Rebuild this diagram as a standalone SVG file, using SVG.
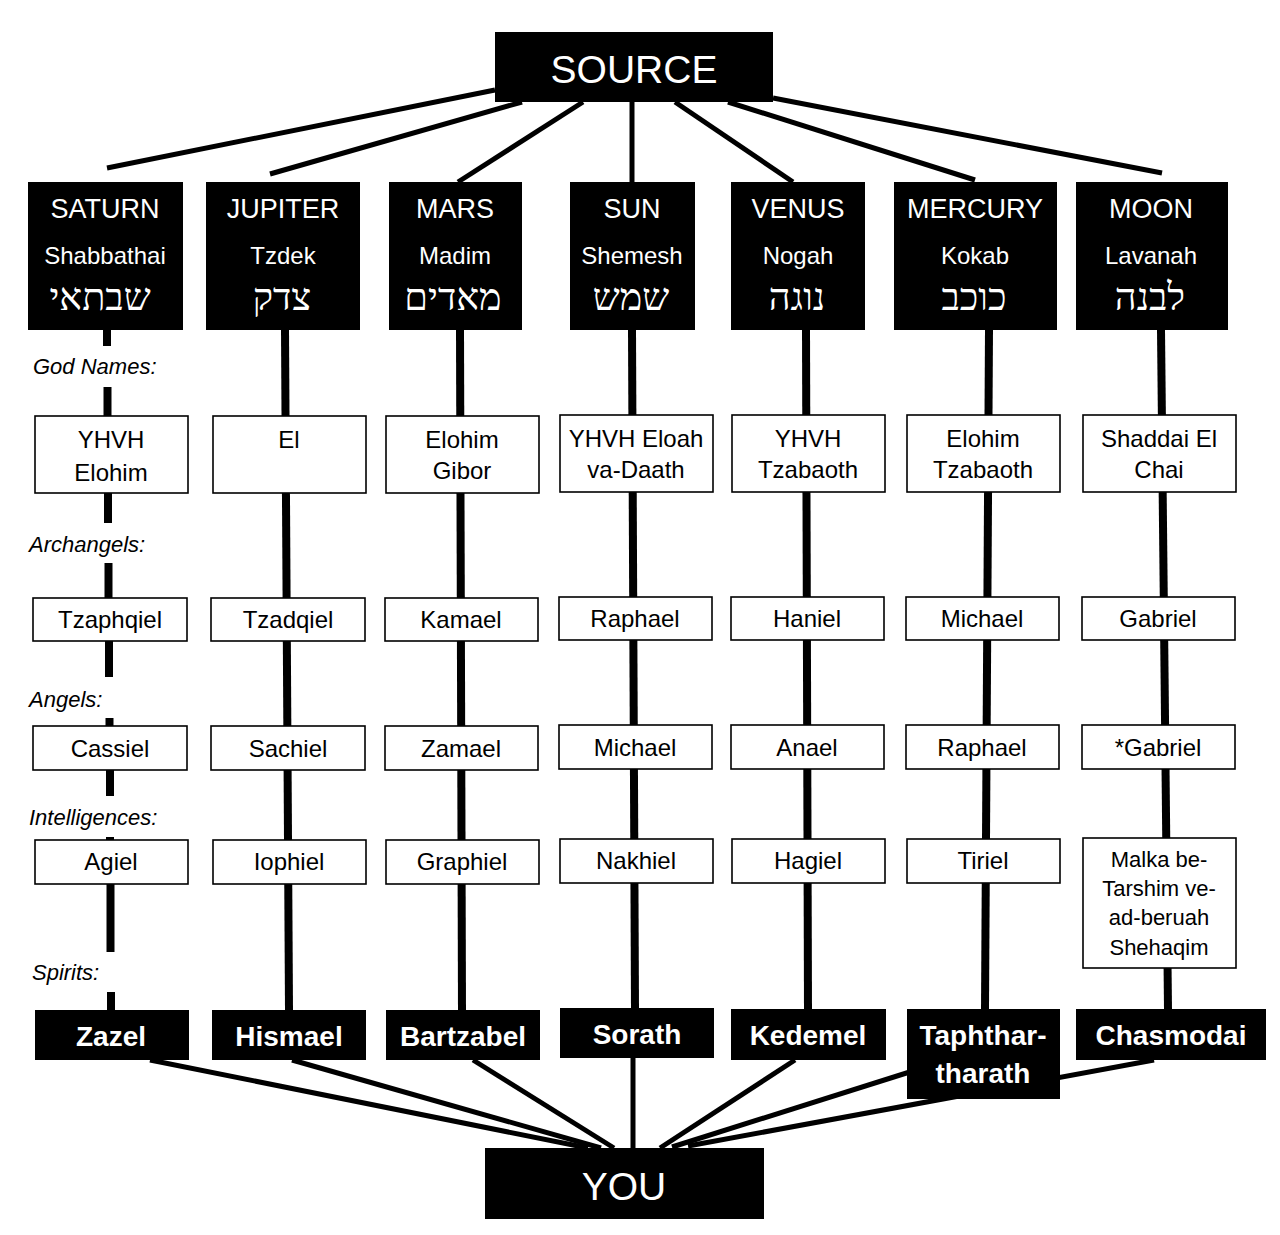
<svg xmlns="http://www.w3.org/2000/svg" width="1280" height="1235" viewBox="0 0 1280 1235">
<style>
.bg{fill:#fff}
.pbox{fill:#000}
.wbox{fill:#fff;stroke:#000;stroke-width:1.6}
.t{font-family:"Liberation Sans",Arial,sans-serif;font-size:24px;text-anchor:middle;fill:#000}
.sm{font-size:22px}
.ptitle{font-family:"Liberation Sans",Arial,sans-serif;font-size:27px;text-anchor:middle;fill:#fff}
.psub{font-family:"Liberation Sans",Arial,sans-serif;font-size:24px;text-anchor:middle;fill:#fff}
.heb{font-family:"Liberation Serif","DejaVu Serif",serif;font-size:38px;text-anchor:middle;fill:#fff}
.spirit{font-family:"Liberation Sans",Arial,sans-serif;font-weight:bold;font-size:28px;text-anchor:middle;fill:#fff}
.big{font-family:"Liberation Sans",Arial,sans-serif;font-size:39px;text-anchor:middle;fill:#fff}
.lbl{font-family:"Liberation Sans",Arial,sans-serif;font-style:italic;font-size:22px;fill:#000}
.col{stroke:#000;stroke-width:8;fill:none}
.con{stroke:#000;stroke-width:5;fill:none}
</style>
<rect class="bg" x="0" y="0" width="1280" height="1235"/>
<g id="connectors">
  <line class="con" x1="495" y1="90" x2="107" y2="168"/>
  <line class="con" x1="522" y1="102" x2="270" y2="174"/>
  <line class="con" x1="583" y1="102" x2="458" y2="182"/>
  <line class="con" x1="632" y1="102" x2="632" y2="182"/>
  <line class="con" x1="675" y1="102" x2="793" y2="182"/>
  <line class="con" x1="728" y1="102" x2="975" y2="180"/>
  <line class="con" x1="773" y1="98" x2="1162" y2="173"/>
  <line class="col" x1="107" y1="330" x2="107" y2="346"/>
  <line class="col" x1="107.5" y1="387" x2="107.5" y2="416"/>
  <line class="col" x1="108" y1="493" x2="108" y2="523"/>
  <line class="col" x1="108.5" y1="563" x2="108.5" y2="598"/>
  <line class="col" x1="109" y1="641" x2="109" y2="677"/>
  <line class="col" x1="109.5" y1="718" x2="109.5" y2="726"/>
  <line class="col" x1="110" y1="770" x2="110" y2="796"/>
  <line class="col" x1="110" y1="837" x2="110" y2="840"/>
  <line class="col" x1="110.5" y1="884" x2="110.5" y2="952"/>
  <line class="col" x1="111" y1="992" x2="111" y2="1010"/>
  <line class="col" x1="285" y1="330" x2="289" y2="1010"/>
  <line class="col" x1="460" y1="330" x2="462" y2="1010"/>
  <line class="col" x1="632" y1="330" x2="635" y2="1008"/>
  <line class="col" x1="806" y1="330" x2="808" y2="1009"/>
  <line class="col" x1="989" y1="330" x2="985" y2="1009"/>
  <line class="col" x1="1161" y1="330" x2="1168" y2="1009"/>
  <line class="con" x1="150" y1="1060" x2="588" y2="1148"/>
  <line class="con" x1="292" y1="1060" x2="601" y2="1148"/>
  <line class="con" x1="473" y1="1060" x2="614" y2="1148"/>
  <line class="con" x1="633" y1="1058" x2="633" y2="1148"/>
  <line class="con" x1="795" y1="1060" x2="660" y2="1148"/>
  <line class="con" x1="935" y1="1064" x2="672" y2="1147"/>
  <line class="con" x1="1154" y1="1060" x2="688" y2="1146"/>
</g>
<g id="source"><rect class="pbox" x="495" y="32" width="278" height="70"/><text class="big" x="634" y="83">SOURCE</text></g>
<g id="saturn"><rect class="pbox" x="28" y="182" width="155" height="148"/><text class="ptitle" x="105" y="218">SATURN</text><text class="psub" x="105" y="264">Shabbathai</text><text class="heb" x="100" y="310">שבתאי</text></g>
<g id="jupiter"><rect class="pbox" x="206" y="182" width="154" height="148"/><text class="ptitle" x="283" y="218">JUPITER</text><text class="psub" x="283" y="264">Tzdek</text><text class="heb" x="282" y="310">צדק</text></g>
<g id="mars"><rect class="pbox" x="389" y="182" width="133" height="148"/><text class="ptitle" x="455" y="218">MARS</text><text class="psub" x="455" y="264">Madim</text><text class="heb" x="453" y="310">מאדים</text></g>
<g id="sun"><rect class="pbox" x="570" y="182" width="125" height="148"/><text class="ptitle" x="632" y="218">SUN</text><text class="psub" x="632" y="264">Shemesh</text><text class="heb" x="631" y="310">שמש</text></g>
<g id="venus"><rect class="pbox" x="731" y="182" width="134" height="148"/><text class="ptitle" x="798" y="218">VENUS</text><text class="psub" x="798" y="264">Nogah</text><text class="heb" x="797" y="310">נוגה</text></g>
<g id="mercury"><rect class="pbox" x="894" y="182" width="163" height="148"/><text class="ptitle" x="975" y="218">MERCURY</text><text class="psub" x="975" y="264">Kokab</text><text class="heb" x="974" y="310">כוכב</text></g>
<g id="moon"><rect class="pbox" x="1076" y="182" width="152" height="148"/><text class="ptitle" x="1151" y="218">MOON</text><text class="psub" x="1151" y="264">Lavanah</text><text class="heb" x="1150" y="310">לבנה</text></g>
<g id="labels">
  <text class="lbl" x="33" y="374">God Names:</text>
  <text class="lbl" x="29" y="552">Archangels:</text>
  <text class="lbl" x="29" y="707">Angels:</text>
  <text class="lbl" x="29" y="825">Intelligences:</text>
  <text class="lbl" x="32" y="980">Spirits:</text>
</g>
<g id="god-saturn"><rect class="wbox" x="35" y="416" width="153" height="77"/><text class="t" x="111" y="448">YHVH</text><text class="t" x="111" y="481">Elohim</text></g>
<g id="god-jupiter"><rect class="wbox" x="213" y="416" width="153" height="77"/><text class="t" x="289" y="448">El</text></g>
<g id="god-mars"><rect class="wbox" x="386" y="416" width="153" height="77"/><text class="t" x="462" y="448">Elohim</text><text class="t" x="462" y="479">Gibor</text></g>
<g id="god-sun"><rect class="wbox" x="560" y="415" width="153" height="77"/><text class="t" x="636" y="447">YHVH Eloah</text><text class="t" x="636" y="478">va-Daath</text></g>
<g id="god-venus"><rect class="wbox" x="732" y="415" width="153" height="77"/><text class="t" x="808" y="447">YHVH</text><text class="t" x="808" y="478">Tzabaoth</text></g>
<g id="god-mercury"><rect class="wbox" x="907" y="415" width="153" height="77"/><text class="t" x="983" y="447">Elohim</text><text class="t" x="983" y="478">Tzabaoth</text></g>
<g id="god-moon"><rect class="wbox" x="1083" y="415" width="153" height="77"/><text class="t" x="1159" y="447">Shaddai El</text><text class="t" x="1159" y="478">Chai</text></g>
<g id="arch-saturn"><rect class="wbox" x="33" y="598" width="154" height="43"/><text class="t" x="110" y="628">Tzaphqiel</text></g>
<g id="arch-jupiter"><rect class="wbox" x="211" y="598" width="154" height="43"/><text class="t" x="288" y="628">Tzadqiel</text></g>
<g id="arch-mars"><rect class="wbox" x="385" y="598" width="153" height="43"/><text class="t" x="461" y="628">Kamael</text></g>
<g id="arch-sun"><rect class="wbox" x="559" y="597" width="153" height="43"/><text class="t" x="635" y="627">Raphael</text></g>
<g id="arch-venus"><rect class="wbox" x="731" y="597" width="153" height="43"/><text class="t" x="807" y="627">Haniel</text></g>
<g id="arch-mercury"><rect class="wbox" x="906" y="597" width="153" height="43"/><text class="t" x="982" y="627">Michael</text></g>
<g id="arch-moon"><rect class="wbox" x="1082" y="597" width="153" height="43"/><text class="t" x="1158" y="627">Gabriel</text></g>
<g id="angel-saturn"><rect class="wbox" x="33" y="726" width="154" height="44"/><text class="t" x="110" y="757">Cassiel</text></g>
<g id="angel-jupiter"><rect class="wbox" x="211" y="726" width="154" height="44"/><text class="t" x="288" y="757">Sachiel</text></g>
<g id="angel-mars"><rect class="wbox" x="385" y="726" width="153" height="44"/><text class="t" x="461" y="757">Zamael</text></g>
<g id="angel-sun"><rect class="wbox" x="559" y="725" width="153" height="44"/><text class="t" x="635" y="756">Michael</text></g>
<g id="angel-venus"><rect class="wbox" x="731" y="725" width="153" height="44"/><text class="t" x="807" y="756">Anael</text></g>
<g id="angel-mercury"><rect class="wbox" x="906" y="725" width="153" height="44"/><text class="t" x="982" y="756">Raphael</text></g>
<g id="angel-moon"><rect class="wbox" x="1082" y="725" width="153" height="44"/><text class="t" x="1158" y="756">*Gabriel</text></g>
<g id="int-saturn"><rect class="wbox" x="35" y="840" width="153" height="44"/><text class="t" x="111" y="870">Agiel</text></g>
<g id="int-jupiter"><rect class="wbox" x="213" y="840" width="153" height="44"/><text class="t" x="289" y="870">Iophiel</text></g>
<g id="int-mars"><rect class="wbox" x="386" y="840" width="153" height="44"/><text class="t" x="462" y="870">Graphiel</text></g>
<g id="int-sun"><rect class="wbox" x="560" y="839" width="153" height="44"/><text class="t" x="636" y="869">Nakhiel</text></g>
<g id="int-venus"><rect class="wbox" x="732" y="839" width="153" height="44"/><text class="t" x="808" y="869">Hagiel</text></g>
<g id="int-mercury"><rect class="wbox" x="907" y="839" width="153" height="44"/><text class="t" x="983" y="869">Tiriel</text></g>
<g id="int-moon"><rect class="wbox" x="1083" y="838" width="153" height="130"/><text class="t sm" x="1159" y="867">Malka be-</text><text class="t sm" x="1159" y="896">Tarshim ve-</text><text class="t sm" x="1159" y="925">ad-beruah</text><text class="t sm" x="1159" y="955">Shehaqim</text></g>
<g id="spirit-saturn"><rect class="pbox" x="35" y="1010" width="154" height="50"/><text class="spirit" x="111" y="1046">Zazel</text></g>
<g id="spirit-jupiter"><rect class="pbox" x="212" y="1010" width="154" height="50"/><text class="spirit" x="289" y="1046">Hismael</text></g>
<g id="spirit-mars"><rect class="pbox" x="386" y="1010" width="154" height="50"/><text class="spirit" x="463" y="1046">Bartzabel</text></g>
<g id="spirit-sun"><rect class="pbox" x="560" y="1008" width="154" height="50"/><text class="spirit" x="637" y="1044">Sorath</text></g>
<g id="spirit-venus"><rect class="pbox" x="731" y="1009" width="155" height="51"/><text class="spirit" x="808" y="1045">Kedemel</text></g>
<g id="spirit-mercury"><rect class="pbox" x="907" y="1009" width="153" height="90"/><text class="spirit" x="983" y="1045">Taphthar-</text><text class="spirit" x="983" y="1083">tharath</text></g>
<g id="spirit-moon"><rect class="pbox" x="1076" y="1009" width="190" height="51"/><text class="spirit" x="1171" y="1045">Chasmodai</text></g>
<g id="you"><rect class="pbox" x="485" y="1148" width="279" height="71"/><text class="big" x="624" y="1200">YOU</text></g>
</svg>
